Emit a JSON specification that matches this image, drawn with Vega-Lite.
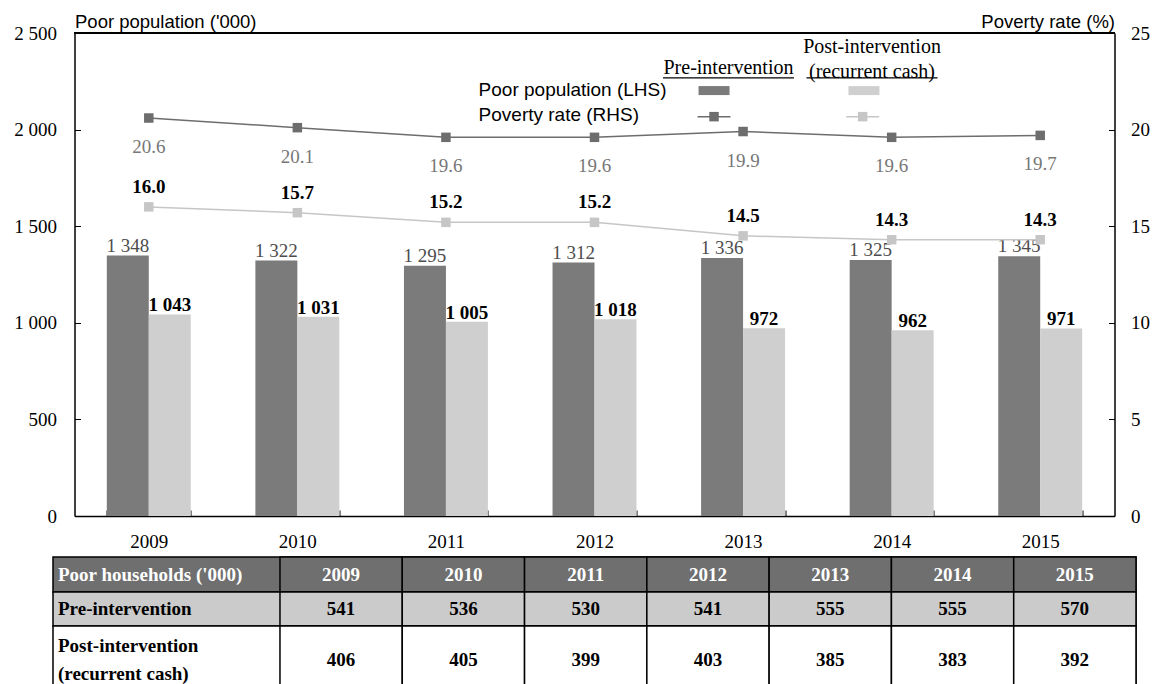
{
  "$schema": "https://vega.github.io/schema/vega-lite/v6.json",
  "background": "#ffffff",
  "autosize": {"type": "pad"},
  "padding": {"left": 13, "top": 12, "right": 0, "bottom": 0},
  "config": {
    "locale": {"number": {"decimal": ".", "thousands": " ", "grouping": [3], "currency": ["", ""]}},
    "font": "Liberation Serif",
    "view": {"stroke": null},
    "axis": {"labelFont": "Liberation Serif", "labelFontSize": 19, "labelColor": "#000", "domainColor": "#000", "domainWidth": 1.5, "tickColor": "#000", "grid": false}
  },
  "bounds": "flush",
  "center": true,
  "spacing": 0,
  "vconcat": [
    {
      "width": 1040,
      "height": 524,
      "data": {
        "values": [
          {"year": "2009", "stage": "Pre-intervention", "pop": 1348, "rate": 20.6},
          {"year": "2009", "stage": "Post-intervention", "pop": 1043, "rate": 16.0},
          {"year": "2010", "stage": "Pre-intervention", "pop": 1322, "rate": 20.1},
          {"year": "2010", "stage": "Post-intervention", "pop": 1031, "rate": 15.7},
          {"year": "2011", "stage": "Pre-intervention", "pop": 1295, "rate": 19.6},
          {"year": "2011", "stage": "Post-intervention", "pop": 1005, "rate": 15.2},
          {"year": "2012", "stage": "Pre-intervention", "pop": 1312, "rate": 19.6},
          {"year": "2012", "stage": "Post-intervention", "pop": 1018, "rate": 15.2},
          {"year": "2013", "stage": "Pre-intervention", "pop": 1336, "rate": 19.9},
          {"year": "2013", "stage": "Post-intervention", "pop": 972, "rate": 14.5},
          {"year": "2014", "stage": "Pre-intervention", "pop": 1325, "rate": 19.6},
          {"year": "2014", "stage": "Post-intervention", "pop": 962, "rate": 14.3},
          {"year": "2015", "stage": "Pre-intervention", "pop": 1345, "rate": 19.7},
          {"year": "2015", "stage": "Post-intervention", "pop": 971, "rate": 14.3}
        ]
      },
      "resolve": {"scale": {"y": "independent"}},
      "layer": [
        {
          "layer": [
            {
              "mark": {"type": "bar"},
              "encoding": {
                "x": {
                  "field": "year", "type": "nominal",
                  "scale": {"paddingInner": 0.435, "paddingOuter": 0.2175},
                  "axis": {"title": null, "labelAngle": 0, "labelPadding": 22, "tickBand": "extent", "tickSize": -6, "offset": -41}
                },
                "xOffset": {"field": "stage", "type": "nominal", "scale": {"domain": ["Pre-intervention", "Post-intervention"], "paddingInner": 0}},
                "y": {
                  "field": "pop", "type": "quantitative",
                  "scale": {"domain": [0, 2500], "nice": false, "range": [483, 0]},
                  "axis": {
                    "values": [0, 500, 1000, 1500, 2000, 2500],
                    "tickSize": -6, "labelPadding": 24,
                    "title": "Poor population ('000)", "titleAngle": 0, "titleAlign": "left", "titleBaseline": "bottom",
                    "titleX": 0, "titleY": -2, "titleFont": "Liberation Sans", "titleFontSize": 18.5, "titleFontWeight": "normal", "titleColor": "#000"
                  }
                },
                "fill": {"field": "stage", "type": "nominal", "scale": {"domain": ["Pre-intervention", "Post-intervention"], "range": ["#7b7b7b", "#cfcfcf"]}, "legend": null}
              }
            },
            {
              "mark": {"type": "rule", "color": "#000", "strokeWidth": 1.5},
              "encoding": {"y": {"datum": 2500, "type": "quantitative"}}
            },
            {
              "transform": [{"filter": "datum.stage === 'Pre-intervention'"}],
              "mark": {"type": "text", "baseline": "alphabetic", "dy": -4, "fontSize": 19, "color": "#4d4d4d"},
              "encoding": {
                "x": {"field": "year", "type": "nominal"},
                "xOffset": {"field": "stage", "type": "nominal"},
                "y": {"field": "pop", "type": "quantitative"},
                "text": {"field": "pop", "type": "quantitative", "format": ","}
              }
            },
            {
              "transform": [{"filter": "datum.stage === 'Post-intervention'"}],
              "mark": {"type": "text", "baseline": "alphabetic", "dy": -3, "fontSize": 19, "fontWeight": "bold", "color": "#000"},
              "encoding": {
                "x": {"field": "year", "type": "nominal"},
                "xOffset": {"field": "stage", "type": "nominal"},
                "y": {"field": "pop", "type": "quantitative"},
                "text": {"field": "pop", "type": "quantitative", "format": ","}
              }
            }
          ]
        },
        {
          "layer": [
            {
              "mark": {"type": "line", "strokeWidth": 1.5, "point": {"shape": "square", "size": 90, "filled": true}},
              "encoding": {
                "x": {"field": "year", "type": "nominal"},
                "y": {
                  "field": "rate", "type": "quantitative",
                  "scale": {"domain": [0, 25], "nice": false, "range": [483, 0]},
                  "axis": {
                    "orient": "right", "values": [0, 5, 10, 15, 20, 25],
                    "tickSize": -6, "labelPadding": 22,
                    "title": "Poverty rate (%)", "titleAngle": 0, "titleAlign": "right", "titleBaseline": "bottom",
                    "titleX": 0, "titleY": -2, "titleFont": "Liberation Sans", "titleFontSize": 18.5, "titleFontWeight": "normal", "titleColor": "#000"
                  }
                },
                "color": {"field": "stage", "type": "nominal", "scale": {"domain": ["Pre-intervention", "Post-intervention"], "range": ["#6d6d6d", "#c6c6c6"]}, "legend": null}
              }
            },
            {
              "transform": [{"filter": "datum.stage === 'Pre-intervention'"}],
              "mark": {"type": "text", "baseline": "alphabetic", "dy": 35, "fontSize": 19, "color": "#777777"},
              "encoding": {
                "x": {"field": "year", "type": "nominal"},
                "y": {"field": "rate", "type": "quantitative"},
                "text": {"field": "rate", "type": "quantitative", "format": ".1f"}
              }
            },
            {
              "transform": [{"filter": "datum.stage === 'Post-intervention'"}],
              "mark": {"type": "text", "baseline": "alphabetic", "dy": -14, "fontSize": 19, "fontWeight": "bold", "color": "#000"},
              "encoding": {
                "x": {"field": "year", "type": "nominal"},
                "y": {"field": "rate", "type": "quantitative"},
                "text": {"field": "rate", "type": "quantitative", "format": ".1f"}
              }
            },
            {
              "data": {"values": [{"label": "Poor population (LHS)"}]},
              "mark": {"type": "text", "align": "left", "baseline": "middle", "font": "Liberation Sans", "fontSize": 19, "color": "#000"},
              "encoding": {
                "x": {"datum": "2011", "type": "nominal", "bandPosition": 0.889},
                "y": {"datum": 22.05, "type": "quantitative"},
                "text": {"field": "label"}
              }
            },
            {
              "data": {"values": [{"label": "Poverty rate  (RHS)"}]},
              "mark": {"type": "text", "align": "left", "baseline": "middle", "font": "Liberation Sans", "fontSize": 19, "color": "#000"},
              "encoding": {
                "x": {"datum": "2011", "type": "nominal", "bandPosition": 0.889},
                "y": {"datum": 20.76, "type": "quantitative"},
                "text": {"field": "label"}
              }
            },
            {
              "data": {"values": [{"label": "Pre-intervention"}]},
              "mark": {"type": "text", "align": "center", "baseline": "middle", "fontSize": 20, "color": "#000"},
              "encoding": {
                "x": {"datum": "2013", "type": "nominal", "bandPosition": 0.326},
                "y": {"datum": 23.17, "type": "quantitative"},
                "text": {"field": "label"}
              }
            },
            {
              "data": {"values": [{"label": "Post-intervention\n(recurrent cash)"}]},
              "mark": {"type": "text", "align": "center", "baseline": "middle", "lineBreak": "\n", "lineHeight": 25, "fontSize": 20, "color": "#000"},
              "encoding": {
                "x": {"datum": "2014", "type": "nominal", "bandPosition": 0.266},
                "y": {"datum": 24.29, "type": "quantitative"},
                "text": {"field": "label"}
              }
            },
            {
              "data": {"values": [{"item": "Pre-intervention header underline"}]},
              "mark": {"type": "point", "shape": "M-1,0H1", "size": 17161, "filled": false, "strokeWidth": 1.2, "color": "#000", "opacity": 1},
              "encoding": {
                "x": {"datum": "2013", "type": "nominal", "bandPosition": 0.326},
                "y": {"datum": 22.68, "type": "quantitative"}
              }
            },
            {
              "data": {"values": [{"item": "Post-intervention header underline"}]},
              "mark": {"type": "point", "shape": "M-1,0H1", "size": 17161, "filled": false, "strokeWidth": 1.2, "color": "#000", "opacity": 1},
              "encoding": {
                "x": {"datum": "2014", "type": "nominal", "bandPosition": 0.266},
                "y": {"datum": 22.68, "type": "quantitative"}
              }
            },
            {
              "data": {"values": [{"item": "Pre-intervention bar key"}]},
              "mark": {"type": "point", "shape": "M-1,-0.29H1V0.29H-1Z", "size": 961, "filled": true, "color": "#7b7b7b", "opacity": 1},
              "encoding": {
                "x": {"datum": "2013", "type": "nominal", "bandPosition": 0.154},
                "y": {"datum": 22.02, "type": "quantitative"}
              }
            },
            {
              "data": {"values": [{"item": "Post-intervention bar key"}]},
              "mark": {"type": "point", "shape": "M-1,-0.29H1V0.29H-1Z", "size": 961, "filled": true, "color": "#cfcfcf", "opacity": 1},
              "encoding": {
                "x": {"datum": "2014", "type": "nominal", "bandPosition": 0.17},
                "y": {"datum": 22.02, "type": "quantitative"}
              }
            },
            {
              "data": {"values": [{"item": "Pre-intervention line key"}]},
              "mark": {"type": "point", "shape": "M-1,0H1", "size": 1089, "filled": false, "strokeWidth": 1.5, "color": "#6d6d6d", "opacity": 1},
              "encoding": {
                "x": {"datum": "2013", "type": "nominal", "bandPosition": 0.154},
                "y": {"datum": 20.67, "type": "quantitative"}
              }
            },
            {
              "data": {"values": [{"item": "Pre-intervention line key"}]},
              "mark": {"type": "point", "shape": "square", "size": 90, "filled": true, "color": "#6d6d6d", "opacity": 1},
              "encoding": {
                "x": {"datum": "2013", "type": "nominal", "bandPosition": 0.154},
                "y": {"datum": 20.67, "type": "quantitative"}
              }
            },
            {
              "data": {"values": [{"item": "Post-intervention line key"}]},
              "mark": {"type": "point", "shape": "M-1,0H1", "size": 1089, "filled": false, "strokeWidth": 1.5, "color": "#c6c6c6", "opacity": 1},
              "encoding": {
                "x": {"datum": "2014", "type": "nominal", "bandPosition": 0.155},
                "y": {"datum": 20.67, "type": "quantitative"}
              }
            },
            {
              "data": {"values": [{"item": "Post-intervention line key"}]},
              "mark": {"type": "point", "shape": "square", "size": 90, "filled": true, "color": "#c6c6c6", "opacity": 1},
              "encoding": {
                "x": {"datum": "2014", "type": "nominal", "bandPosition": 0.155},
                "y": {"datum": 20.67, "type": "quantitative"}
              }
            }
          ]
        }
      ]
    },
    {
      "width": 1083, "height": 35,
      "view": {"fill": "#6f6f6f", "stroke": "#000", "strokeWidth": 1.5},
      "resolve": {"scale": {"x": "independent"}},
      "layer": [
        {
          "data": {"values": [{"year": "2009"}, {"year": "2010"}, {"year": "2011"}, {"year": "2012"}, {"year": "2013"}, {"year": "2014"}, {"year": "2015"}]},
          "layer": [
            {
              "mark": {"type": "rect", "fill": "#6f6f6f", "stroke": "#000", "strokeWidth": 1.5},
              "encoding": {"x": {"field": "year", "type": "nominal", "scale": {"paddingInner": 0, "paddingOuter": 0.928, "align": 1}, "axis": null}}
            },
            {
              "mark": {"type": "text", "baseline": "middle", "fontSize": 19, "fontWeight": "bold", "color": "#ffffff"},
              "encoding": {"x": {"field": "year", "type": "nominal"}, "text": {"field": "year"}}
            }
          ]
        },
        {
          "data": {"values": [{"label": "Poor households ('000)"}]},
          "mark": {"type": "text", "align": "left", "baseline": "middle", "dx": 5, "fontSize": 19, "fontWeight": "bold", "color": "#ffffff"},
          "encoding": {
            "x": {"datum": 0, "type": "quantitative", "scale": {"domain": [0, 1]}, "axis": null},
            "text": {"field": "label"}
          }
        }
      ]
    },
    {
      "width": 1083, "height": 34,
      "view": {"fill": "#cbcbcb", "stroke": "#000", "strokeWidth": 1.5},
      "resolve": {"scale": {"x": "independent"}},
      "layer": [
        {
          "data": {"values": [
            {"year": "2009", "households": 541}, {"year": "2010", "households": 536}, {"year": "2011", "households": 530},
            {"year": "2012", "households": 541}, {"year": "2013", "households": 555}, {"year": "2014", "households": 555},
            {"year": "2015", "households": 570}
          ]},
          "layer": [
            {
              "mark": {"type": "rect", "fill": "#cbcbcb", "stroke": "#000", "strokeWidth": 1.5},
              "encoding": {"x": {"field": "year", "type": "nominal", "scale": {"paddingInner": 0, "paddingOuter": 0.928, "align": 1}, "axis": null}}
            },
            {
              "mark": {"type": "text", "baseline": "middle", "fontSize": 19, "fontWeight": "bold", "color": "#000"},
              "encoding": {"x": {"field": "year", "type": "nominal"}, "text": {"field": "households", "type": "quantitative"}}
            }
          ]
        },
        {
          "data": {"values": [{"label": "Pre-intervention"}]},
          "mark": {"type": "text", "align": "left", "baseline": "middle", "dx": 5, "fontSize": 19, "fontWeight": "bold", "color": "#000"},
          "encoding": {
            "x": {"datum": 0, "type": "quantitative", "scale": {"domain": [0, 1]}, "axis": null},
            "text": {"field": "label"}
          }
        }
      ]
    },
    {
      "width": 1083, "height": 68,
      "view": {"fill": "#ffffff", "stroke": "#000", "strokeWidth": 1.5},
      "resolve": {"scale": {"x": "independent"}},
      "layer": [
        {
          "data": {"values": [
            {"year": "2009", "households": 406}, {"year": "2010", "households": 405}, {"year": "2011", "households": 399},
            {"year": "2012", "households": 403}, {"year": "2013", "households": 385}, {"year": "2014", "households": 383},
            {"year": "2015", "households": 392}
          ]},
          "layer": [
            {
              "mark": {"type": "rect", "fill": "#ffffff", "stroke": "#000", "strokeWidth": 1.5},
              "encoding": {"x": {"field": "year", "type": "nominal", "scale": {"paddingInner": 0, "paddingOuter": 0.928, "align": 1}, "axis": null}}
            },
            {
              "mark": {"type": "text", "baseline": "middle", "fontSize": 19, "fontWeight": "bold", "color": "#000"},
              "encoding": {"x": {"field": "year", "type": "nominal"}, "text": {"field": "households", "type": "quantitative"}}
            }
          ]
        },
        {
          "data": {"values": [{"label": "Post-intervention\n(recurrent cash)"}]},
          "mark": {"type": "text", "align": "left", "baseline": "middle", "dx": 5, "dy": -14, "lineBreak": "\n", "lineHeight": 28, "fontSize": 19, "fontWeight": "bold", "color": "#000"},
          "encoding": {
            "x": {"datum": 0, "type": "quantitative", "scale": {"domain": [0, 1]}, "axis": null},
            "text": {"field": "label"}
          }
        }
      ]
    }
  ]
}
